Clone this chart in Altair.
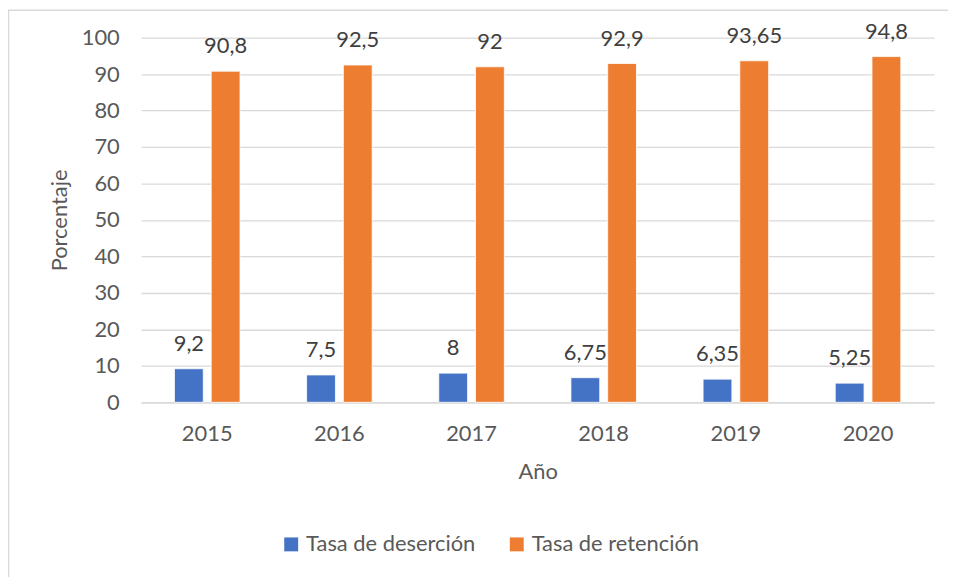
import altair as alt
import pandas as pd

years = ["2015", "2016", "2017", "2018", "2019", "2020"]
desercion = [9.2, 7.5, 8, 6.75, 6.35, 5.25]
retencion = [90.8, 92.5, 92, 92.9, 93.65, 94.8]
series = ["Tasa de deserción", "Tasa de retención"]
colors = ["#4472C4", "#ED7D31"]
y_ticks = [0, 10, 20, 30, 40, 50, 60, 70, 80, 90, 100]

rows = []
for y, d, r in zip(years, desercion, retencion):
    rows.append({"year": y, "serie": series[0], "value": d})
    rows.append({"year": y, "serie": series[1], "value": r})
df = pd.DataFrame(rows)

FONT = "Lato"
FS = 22
W, H = 798, 367

x_enc = alt.X("year:N", sort=years,
              scale=alt.Scale(paddingInner=0.504, paddingOuter=0.252),
              axis=alt.Axis(title="Año", labelAngle=0, labelPadding=21,
                            titleY=70, titleBaseline="middle"))
off_enc = alt.XOffset("serie:N", sort=series,
                      scale=alt.Scale(paddingInner=0.216, paddingOuter=0))
y_enc = alt.Y("value:Q", scale=alt.Scale(domain=[0, 100], nice=False),
              axis=alt.Axis(title="Porcentaje", values=y_ticks, labelOverlap=False,
                            labelPadding=22, titleX=-82, titleY=H / 2,
                            titleBaseline="middle"))
color_enc = alt.Color("serie:N", sort=series,
                      scale=alt.Scale(domain=series, range=colors),
                      legend=alt.Legend(title=None, orient="none", direction="horizontal",
                                        legendX=140, legendY=499,
                                        symbolType="square", symbolSize=196,
                                        symbolStrokeWidth=0, labelOffset=4,
                                        columnPadding=30, labelFontSize=FS,
                                        labelLimit=400,
                                        labelColor="#595959", labelFont=FONT))

bars = alt.Chart(df).mark_bar(stroke="white", strokeWidth=0.8).encode(
    x=x_enc, xOffset=off_enc, y=y_enc, color=color_enc
)

labels = alt.Chart(df).transform_calculate(
    label="replace(toString(datum.value), '.', ',')"
).mark_text(dy=-25, baseline="middle", fontSize=FS, font=FONT, color="#404040").encode(
    x=x_enc, xOffset=off_enc, y=y_enc, text="label:N"
)

border = alt.Chart(alt.Data(values=[{}])).mark_rect(
    fill=None, stroke="#d9d9d9", strokeWidth=1.5
).encode(
    x=alt.value(-133.5), x2=alt.value(W + 30),
    y=alt.value(-27.5), y2=alt.value(H + 200)
)

chart = alt.layer(bars, labels, border).properties(
    width=W, height=H,
    autosize=alt.AutoSizeParams(type="none"),
    padding={"left": 134, "top": 28, "right": 14, "bottom": 174},
).configure_view(stroke=None).configure_axis(
    labelFont=FONT, titleFont=FONT, labelFontSize=FS, titleFontSize=FS,
    labelColor="#595959", titleColor="#595959", titleFontWeight="normal",
    ticks=False,
).configure_axisY(
    domain=False, grid=True, gridColor="#d9d9d9", gridWidth=1.3
).configure_axisX(
    domain=True, domainColor="#d9d9d9", domainWidth=1.5, grid=False
)

chart.save("out.html", embed_options={"renderer": "svg", "actions": False})
